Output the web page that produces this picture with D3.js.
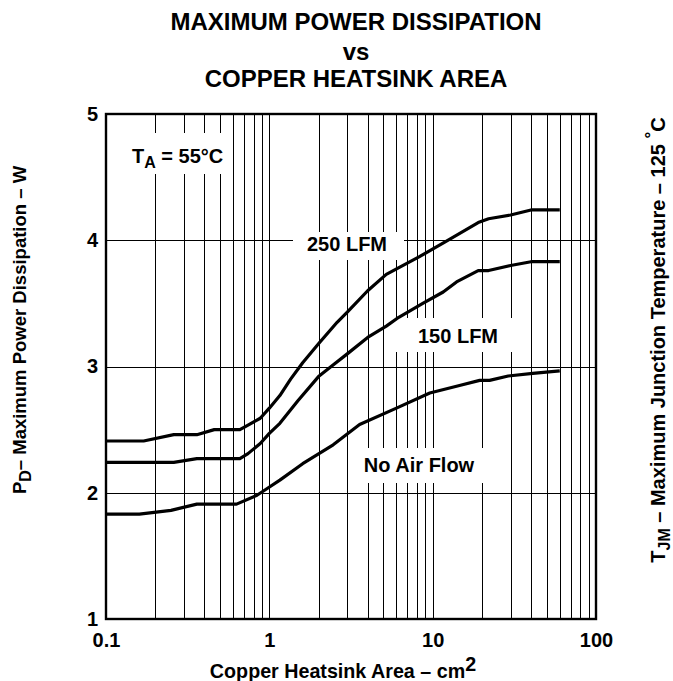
<!DOCTYPE html>
<html>
<head>
<meta charset="utf-8">
<script src="https://cdn.jsdelivr.net/npm/d3@7"></script>
<style>
  html, body { margin: 0; padding: 0; background: #fff; }
  svg { display: block; font-family: "Liberation Sans", Arial, Helvetica, sans-serif; font-weight: bold; }
</style>
</head>
<body>
<svg id="chart" width="673" height="681"></svg>
<script>
// Copper heatsink area (cm²) against maximum power dissipation (W), one curve per air-flow condition
const flow250 = [
  [0.1, 2.41], [0.17, 2.41], [0.26, 2.46], [0.36, 2.46], [0.46, 2.50], [0.66, 2.50],
  [0.75, 2.54], [0.88, 2.59], [1.0, 2.67], [1.16, 2.77], [1.35, 2.90], [1.6, 3.03],
  [2.0, 3.18], [2.6, 3.35], [3.0, 3.43], [4.0, 3.60], [5.2, 3.73], [8.3, 3.87],
  [12, 3.99], [19, 4.14], [22, 4.17], [30, 4.20], [40, 4.24], [60, 4.24]
];
const flow150 = [
  [0.1, 2.24], [0.26, 2.24], [0.36, 2.27], [0.66, 2.27], [0.74, 2.31], [0.88, 2.39],
  [1.0, 2.47], [1.16, 2.55], [1.5, 2.73], [2.0, 2.92], [2.5, 3.02], [3.0, 3.10],
  [4.0, 3.23], [5.2, 3.32], [6.2, 3.39], [8.7, 3.50], [11.6, 3.59], [14, 3.67],
  [19, 3.76], [22, 3.76], [30, 3.80], [40, 3.83], [60, 3.83]
];
const noAirFlow = [
  [0.1, 1.83], [0.16, 1.83], [0.25, 1.86], [0.36, 1.91], [0.63, 1.91], [0.84, 1.98],
  [0.96, 2.03], [1.16, 2.10], [1.6, 2.23], [2.46, 2.38], [3.57, 2.54], [6.0, 2.67],
  [9.6, 2.79], [14.6, 2.85], [19.4, 2.89], [22.3, 2.89], [29, 2.925], [41, 2.946], [60, 2.965]
];
const seriesList = [flow250, flow150, noAirFlow];

const xTicks = [0.1, 1, 10, 100];
const xTickLabels = ["0.1", "1", "10", "100"];
const yTicks = [1, 2, 3, 4, 5];
const yTickLabels = ["1", "2", "3", "4", "5"];
const decades = [0.1, 1, 10];
const mantissas = [1, 2, 3, 4, 5, 6, 7, 8, 9];
const yGrid = [2, 3, 4];

const titleLines = ["MAXIMUM POWER DISSIPATION", "vs", "COPPER HEATSINK AREA"];

// Plot frame
const plotLeft = 106, plotRight = 596, plotTop = 114, plotBottom = 619;

const svg = d3.select("#chart");
const x = d3.scaleLog().domain([0.1, 100]).range([plotLeft, plotRight]);
const y = d3.scaleLinear().domain([1, 5]).range([plotBottom, plotTop]);

// Log grid: every mantissa of every decade
const xGrid = decades.flatMap(d => mantissas.map(m => +(m * d).toPrecision(3))).filter(v => v > 0.1);

const grid = svg.append("g").attr("stroke", "#000").attr("stroke-width", 1).attr("shape-rendering", "crispEdges");
grid.selectAll("line.vx").data(xGrid).join("line")
  .attr("class", "vx")
  .attr("x1", d => Math.round(x(d)) + 0.5).attr("x2", d => Math.round(x(d)) + 0.5)
  .attr("y1", plotTop).attr("y2", plotBottom);
grid.selectAll("line.hy").data(yGrid).join("line")
  .attr("class", "hy")
  .attr("x1", plotLeft).attr("x2", plotRight)
  .attr("y1", d => Math.round(y(d)) + 0.5).attr("y2", d => Math.round(y(d)) + 0.5);

// Curve labels sit on white panels that interrupt the grid
const panels = [
  { x0: 120, x1: 230, y0: 133, y1: 174 },
  { x0: 293, x1: 404, y0: 232, y1: 260 },
  { x0: 391, x1: 522, y0: 318, y1: 352 },
  { x0: 356, x1: 490, y0: 448, y1: 483 }
];
svg.append("g").selectAll("rect").data(panels).join("rect")
  .attr("x", d => d.x0).attr("y", d => d.y0)
  .attr("width", d => d.x1 - d.x0).attr("height", d => d.y1 - d.y0)
  .attr("fill", "#fff");

// Curves
const line = d3.line().x(d => x(d[0])).y(d => y(d[1])).curve(d3.curveLinear);
svg.append("g").selectAll("path").data(seriesList).join("path")
  .attr("d", line)
  .attr("fill", "none").attr("stroke", "#000").attr("stroke-width", 3.2)
  .attr("stroke-linejoin", "round").attr("stroke-linecap", "butt");

// Frame
svg.append("rect")
  .attr("x", plotLeft).attr("y", plotTop).attr("width", plotRight - plotLeft).attr("height", plotBottom - plotTop)
  .attr("fill", "none").attr("stroke", "#000").attr("stroke-width", 2.4);

// Axes (labels only, the frame carries the lines)
const xAxis = d3.axisBottom(x).tickValues(xTicks)
  .tickFormat((d, i) => xTickLabels[i]).tickSize(0).tickPadding(14);
const gx = svg.append("g").attr("transform", `translate(0,${plotBottom})`).call(xAxis);
gx.select(".domain").remove();
gx.selectAll("text").attr("font-size", 20).attr("font-family", "Liberation Sans, Arial, sans-serif")
  .attr("font-weight", "bold").attr("fill", "#000");

const yAxis = d3.axisLeft(y).tickValues(yTicks)
  .tickFormat((d, i) => yTickLabels[i]).tickSize(0).tickPadding(8);
const gy = svg.append("g").attr("transform", `translate(${plotLeft},0)`).call(yAxis);
gy.select(".domain").remove();
gy.selectAll("text").attr("font-size", 20).attr("font-family", "Liberation Sans, Arial, sans-serif")
  .attr("font-weight", "bold").attr("fill", "#000");

// Title
const titleBaselines = [30, 60, 87];
svg.append("g").selectAll("text").data(titleLines).join("text")
  .attr("x", 356).attr("y", (d, i) => titleBaselines[i])
  .attr("text-anchor", "middle").attr("font-size", 24)
  .text(d => d);

// Curve annotations
const ta = svg.append("text").attr("x", 132).attr("y", 163).attr("font-size", 20);
ta.append("tspan").text("T");
ta.append("tspan").attr("font-size", 16).attr("dy", 5).text("A");
ta.append("tspan").attr("dy", -5).text(" = 55°C");

const curveLabels = [
  { text: "250 LFM", cx: 347, cy: 251 },
  { text: "150 LFM", cx: 458, cy: 343 },
  { text: "No Air Flow", cx: 419, cy: 472 }
];
svg.append("g").selectAll("text").data(curveLabels).join("text")
  .attr("x", d => d.cx).attr("y", d => d.cy)
  .attr("text-anchor", "middle").attr("font-size", 20)
  .text(d => d.text);

// X axis title
const xt = svg.append("text").attr("x", 343).attr("y", 678)
  .attr("text-anchor", "middle").attr("font-size", 19.7);
xt.append("tspan").text("Copper Heatsink Area – cm");
xt.append("tspan").attr("dy", -7).text("2");

// Left axis title
const yl = svg.append("text")
  .attr("transform", "translate(26,330) rotate(-90)")
  .attr("text-anchor", "middle").attr("font-size", 18.5);
yl.append("tspan").text("P");
yl.append("tspan").attr("font-size", 16).attr("dy", 5).text("D");
yl.append("tspan").attr("dy", -5).text("– Maximum Power Dissipation – W");

// Right axis title
const yr = svg.append("text")
  .attr("transform", "translate(665,340) rotate(-90)")
  .attr("text-anchor", "middle").attr("font-size", 20);
yr.append("tspan").text("T");
yr.append("tspan").attr("font-size", 16).attr("dy", 5).text("JM");
yr.append("tspan").attr("dy", -5).text(" – Maximum Junction Temperature – 125   ");
yr.append("tspan").attr("dy", -8).attr("font-size", 17).text("°");
yr.append("tspan").attr("dy", 8).text("C");
</script>
</body>
</html>
